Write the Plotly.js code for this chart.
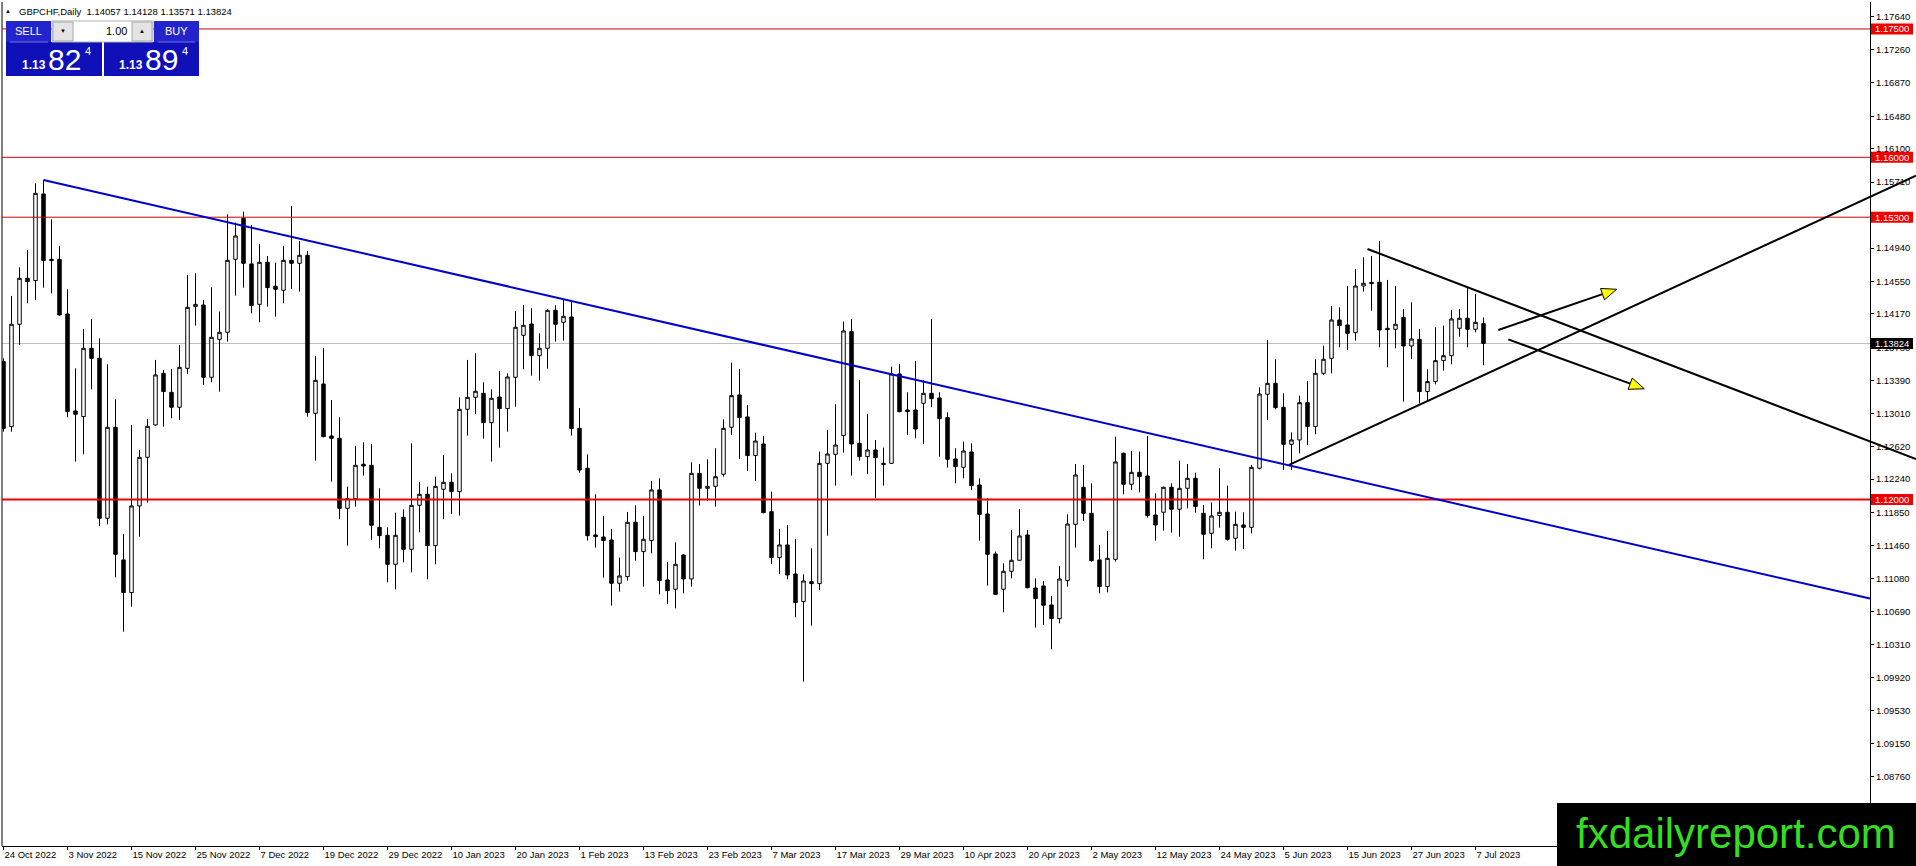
<!DOCTYPE html>
<html><head><meta charset="utf-8">
<script src="https://cdn.plot.ly/plotly-3.0.1.min.js"></script>
<style>html,body{margin:0;padding:0;background:#fff;overflow:hidden}#chart{width:1916px;height:866px}</style>
</head><body><div id="chart"></div>
<script>
// ---------------- DATA ----------------
const symbolTitle = 'GBPCHF,Daily';
const firstDate = '2022-10-24';
const opens = [
1.13612,1.12853,1.14049,1.14586,1.14559,1.15572,1.14808,1.14808,1.14169,1.13036,
1.12970,1.13768,1.13651,1.11782,1.12845,1.11295,1.10913,1.11926,1.12494,1.12872,
1.13476,1.13254,1.13079,1.13534,1.14255,1.14274,1.13429,1.13873,1.13955,1.14808,
1.15287,1.14754,1.14282,1.14773,1.14493,1.14446,1.14796,1.14761,1.14855,1.13008,
1.13351,1.12744,1.12716,1.11898,1.12011,1.12413,1.12401,1.11676,1.11583,1.11244,
1.11793,1.11419,1.11933,1.12062,1.11462,1.12120,1.12202,1.12093,1.13055,1.13195,
1.13242,1.12899,1.13199,1.13063,1.13429,1.13920,1.14052,1.13682,1.13768,1.14212,
1.14072,1.14134,1.12833,1.12366,1.11587,1.11563,1.11528,1.11022,1.11100,1.11735,
1.11392,1.11521,1.12113,1.11061,1.10952,1.11353,1.11073,1.12307,1.12132,1.12155,
1.12296,1.12845,1.13223,1.12966,1.12514,1.12650,1.11859,1.11322,1.11470,1.11131,
1.10808,1.11041,1.11018,1.12424,1.12529,1.12748,1.13963,1.12658,1.12502,1.12580,
1.12424,1.12424,1.13468,1.13047,1.13047,1.13125,1.13242,1.13188,1.12958,1.12475,
1.12377,1.12557,1.12171,1.11832,1.11365,1.10952,1.11162,1.11291,1.11587,1.10967,
1.10991,1.10769,1.10609,1.11053,1.11711,1.12144,1.11840,1.11295,1.10983,1.11302,
1.12541,1.12179,1.12319,1.12276,1.11820,1.11852,1.12144,1.11887,1.12132,1.12249,
1.11840,1.11606,1.11813,1.11852,1.11548,1.11704,1.11676,1.12366,1.13231,1.13359,
1.13079,1.12646,1.12697,1.13133,1.12853,1.13476,1.13651,1.14099,1.14041,1.13951,
1.14496,1.14539,1.14539,1.14002,1.13990,1.14130,1.13795,1.13873,1.13262,1.13379,
1.13624,1.13682,1.14002,1.14119,1.13990,1.14057];
const highs = [
1.13651,1.14380,1.14715,1.14917,1.15696,1.15735,1.15276,1.14964,1.14458,1.13534,
1.13994,1.14111,1.13885,1.13581,1.13172,1.11598,1.12872,1.12580,1.12942,1.13632,
1.13515,1.13527,1.13807,1.14625,1.14645,1.14333,1.14481,1.14197,1.15334,1.15237,
1.15365,1.15209,1.14987,1.14847,1.14769,1.14964,1.15431,1.15022,1.14906,1.13678,
1.13772,1.13164,1.12962,1.12152,1.12627,1.12670,1.12650,1.12132,1.11676,1.11848,
1.11887,1.12658,1.12206,1.12152,1.12268,1.12522,1.12307,1.13195,1.13632,1.13710,
1.13371,1.13289,1.13503,1.13476,1.14204,1.14274,1.14236,1.13943,1.14224,1.14271,
1.14333,1.14313,1.13071,1.12529,1.12062,1.11809,1.11657,1.11322,1.11856,1.11933,
1.11809,1.12218,1.12249,1.11271,1.11501,1.11361,1.12436,1.12416,1.12471,1.12600,
1.12938,1.13601,1.13527,1.13106,1.12783,1.12744,1.12093,1.11657,1.11704,1.11540,
1.11127,1.11431,1.12561,1.12814,1.13114,1.14080,1.14111,1.13398,1.13001,1.12697,
1.12607,1.13554,1.13585,1.13254,1.13620,1.13398,1.14111,1.13254,1.13020,1.12600,
1.12677,1.12658,1.12249,1.12015,1.11392,1.11256,1.11645,1.11890,1.11645,1.11080,
1.11049,1.10874,1.11224,1.11828,1.12416,1.12405,1.12190,1.11470,1.11633,1.12736,
1.12549,1.12568,1.12561,1.12744,1.12074,1.12152,1.12190,1.12455,1.12416,1.12315,
1.11937,1.11968,1.12366,1.12163,1.11859,1.11852,1.12405,1.13312,1.13865,1.13640,
1.13242,1.12786,1.13215,1.13386,1.13640,1.13799,1.14263,1.14247,1.14496,1.14695,
1.14831,1.14847,1.15022,1.14567,1.14496,1.14228,1.14306,1.13994,1.13523,1.14014,
1.14033,1.14216,1.14228,1.14481,1.14403,1.14128];
const lows = [
1.12794,1.12794,1.13807,1.14294,1.14333,1.14477,1.14411,1.14150,1.12962,1.12444,
1.12529,1.13289,1.11692,1.11711,1.11092,1.10457,1.10749,1.11567,1.11965,1.12861,
1.12853,1.12950,1.12931,1.13468,1.14033,1.13340,1.13371,1.13262,1.13846,1.14384,
1.14477,1.14177,1.14072,1.14255,1.14138,1.14294,1.14461,1.14430,1.12970,1.12455,
1.12728,1.12210,1.11770,1.11462,1.11918,1.12280,1.11528,1.11431,1.11034,1.10952,
1.11267,1.11150,1.11618,1.11069,1.11244,1.11770,1.11832,1.11813,1.12748,1.13001,
1.12713,1.12444,1.12607,1.12794,1.13086,1.13523,1.13449,1.13390,1.13531,1.13846,
1.13858,1.12748,1.12315,1.11521,1.11439,1.11088,1.10761,1.10925,1.11053,1.11287,
1.10983,1.11372,1.10893,1.10780,1.10730,1.10905,1.10983,1.11930,1.11988,1.11918,
1.12268,1.12755,1.12475,1.12335,1.12218,1.11840,1.11248,1.11131,1.11069,1.10625,
1.09873,1.10527,1.10944,1.11579,1.12163,1.12549,1.12280,1.12455,1.12300,1.12015,
1.12163,1.12416,1.13020,1.12755,1.12716,1.12650,1.13079,1.12502,1.12374,1.12191,
1.12249,1.12113,1.11520,1.10995,1.10886,1.10683,1.11080,1.11287,1.10963,1.10504,
1.10535,1.10251,1.10554,1.10983,1.11439,1.11750,1.11275,1.10905,1.10917,1.11275,
1.12062,1.12113,1.12085,1.11789,1.11520,1.11637,1.11614,1.11567,1.11898,1.11848,
1.11302,1.11431,1.11672,1.11521,1.11404,1.11423,1.11606,1.12354,1.12931,1.13055,
1.12346,1.12346,1.12541,1.12638,1.12763,1.13456,1.13476,1.13780,1.13749,1.13858,
1.14430,1.14208,1.13780,1.13546,1.13768,1.13145,1.13643,1.13125,1.13145,1.13347,
1.13507,1.13581,1.13904,1.13780,1.13955,1.13571];
const closes = [
1.12833,1.14049,1.14586,1.14547,1.15579,1.14793,1.14793,1.14158,1.13028,1.12997,
1.13768,1.13651,1.11782,1.12845,1.11361,1.10913,1.11926,1.12494,1.12857,1.13457,
1.13262,1.13079,1.13546,1.14247,1.14282,1.13429,1.13897,1.13955,1.14796,1.15081,
1.14761,1.14267,1.14773,1.14477,1.14458,1.14796,1.14761,1.14855,1.13016,1.13394,
1.12736,1.12716,1.11898,1.12011,1.12401,1.12393,1.11700,1.11579,1.11244,1.11583,
1.11419,1.11933,1.12062,1.11462,1.12155,1.12202,1.12093,1.13055,1.13195,1.13266,
1.12899,1.13184,1.13063,1.13433,1.14014,1.14037,1.13682,1.13768,1.14212,1.14049,
1.14142,1.12829,1.12346,1.11579,1.11567,1.11521,1.11022,1.11108,1.11735,1.11392,
1.11536,1.12113,1.11053,1.10936,1.11244,1.11073,1.12307,1.12132,1.12155,1.12268,
1.12833,1.13215,1.12958,1.12514,1.12685,1.11848,1.11322,1.11470,1.11119,1.10796,
1.11049,1.11018,1.12424,1.12533,1.12638,1.13971,1.12650,1.12502,1.12580,1.12490,
1.12409,1.13468,1.13028,1.13028,1.12825,1.13242,1.13180,1.12946,1.12471,1.12385,
1.12568,1.12163,1.11828,1.11361,1.10893,1.11162,1.11291,1.11575,1.10971,1.10843,
1.10765,1.10609,1.11072,1.11715,1.12288,1.11840,1.11287,1.10983,1.11314,1.12440,
1.12179,1.12319,1.12268,1.11813,1.11704,1.12144,1.11887,1.12132,1.12249,1.11918,
1.11595,1.11809,1.11852,1.11536,1.11711,1.11676,1.12377,1.13234,1.13359,1.13075,
1.12646,1.12697,1.13133,1.12853,1.13476,1.13640,1.14099,1.14033,1.13943,1.14496,
1.14528,1.14524,1.13982,1.13986,1.14049,1.13795,1.13877,1.13262,1.13379,1.13624,
1.13682,1.14111,1.14119,1.13990,1.14072,1.13824];
const priceTicks = [1.17640,1.17260,1.16870,1.16480,1.16100,1.15710,1.15320,1.14940,1.14550,1.14170,1.13780,1.13390,
  1.13010,1.12620,1.12240,1.11850,1.11460,1.11080,1.10690,1.10310,1.09920,1.09530,1.09150,1.08760];
const dateTicks = ['2022-10-24','2022-11-03','2022-11-15','2022-11-25','2022-12-07','2022-12-19','2022-12-29',
  '2023-01-10','2023-01-20','2023-02-01','2023-02-13','2023-02-23','2023-03-07','2023-03-17','2023-03-29',
  '2023-04-10','2023-04-20','2023-05-02','2023-05-12','2023-05-24','2023-06-05','2023-06-15','2023-06-27','2023-07-07'];
const monthNames = ['Jan','Feb','Mar','Apr','May','Jun','Jul','Aug','Sep','Oct','Nov','Dec'];
const thinLevels = [1.17500, 1.16000, 1.15300];
const supportLevel = 1.12000;
const bidPrice = 1.13824;
const sellQuote = ['1.13', '82', '4'];
const buyQuote = ['1.13', '89', '4'];
const lotSize = '1.00';
// analyst drawings: [bar index, price]
const blueTrend = [[5, 1.15735], [149.56, 1.12638]];
const upperBlack = [[170.5, 1.14929], [239.06, 1.12475]];
const lowerBlack = [[160.7, 1.12405], [239.06, 1.15786]];
const arrowUp = [[186.85, 1.13982], [201.65, 1.14458]];
const arrowDown = [[188.1, 1.13872], [205.1, 1.13295]];

// ---------------- BUILD ----------------
const dates = [];
{
  const d = new Date(firstDate + 'T00:00:00Z');
  while (dates.length < opens.length) {
    const wd = d.getUTCDay();
    if (wd !== 0 && wd !== 6) dates.push(d.toISOString().slice(0, 10));
    d.setUTCDate(d.getUTCDate() + 1);
  }
}
const tickText = dateTicks.map(s => {
  const [y, m, dd] = s.split('-');
  return (+dd) + ' ' + monthNames[+m - 1] + ' ' + y;
});

const W = 1916, H = 866, M = {l: 2, r: 46, t: 2, b: 20};
const plotW = W - M.l - M.r, plotH = H - M.t - M.b;
const xr = [-0.1875, 233.3125];
const yr = [1.07952, 1.17815];
const FONT = 'Liberation Sans, Arial, DejaVu Sans, sans-serif';

function dataPx(pt) {
  return [M.l + (pt[0] - xr[0]) / (xr[1] - xr[0]) * plotW,
          M.t + (yr[1] - pt[1]) / (yr[1] - yr[0]) * plotH];
}
function pxPaper(p) { return [(p[0] - M.l) / plotW, 1 - (p[1] - M.t) / plotH]; }
function pricePx(p) { return M.t + (yr[1] - p) / (yr[1] - yr[0]) * plotH; }

const shapes = [];
const annotations = [];

function segPx(a, b, color, width) {
  const A = pxPaper(a), B = pxPaper(b);
  shapes.push({type: 'line', xref: 'paper', yref: 'paper', x0: A[0], y0: A[1], x1: B[0], y1: B[1],
    line: {color: color, width: width}, layer: 'above'});
}
function rectPx(x0, y0, x1, y1, fill, stroke, lw) {
  const A = pxPaper([x0, y0]), B = pxPaper([x1, y1]);
  shapes.push({type: 'rect', xref: 'paper', yref: 'paper', x0: A[0], y0: B[1], x1: B[0], y1: A[1],
    fillcolor: fill, line: {color: stroke || fill, width: lw === undefined ? 0 : lw}, layer: 'above'});
}
function textPx(x, y, text, size, color, xanchor, opts) {
  const P = pxPaper([x, y]);
  annotations.push(Object.assign({xref: 'paper', yref: 'paper', x: P[0], y: P[1], text: text, showarrow: false,
    xanchor: xanchor || 'center', yanchor: 'middle', font: {family: FONT, size: size, color: color}, borderpad: 0}, opts || {}));
}

// bid line (below candles)
shapes.push({type: 'line', xref: 'paper', yref: 'y', x0: 0, x1: 1, y0: bidPrice, y1: bidPrice,
  line: {color: '#c0c0c0', width: 1}, layer: 'below'});
// left frame
shapes.push({type: 'line', xref: 'paper', yref: 'paper', x0: 0, x1: 0, y0: 0, y1: 1,
  line: {color: '#000', width: 1}, layer: 'above'});
// horizontal levels
thinLevels.forEach(v => shapes.push({type: 'line', xref: 'paper', yref: 'y', x0: 0, x1: 1, y0: v, y1: v,
  line: {color: '#cc0000', width: 1}, layer: 'above'}));
shapes.push({type: 'line', xref: 'paper', yref: 'y', x0: 0, x1: 1, y0: supportLevel, y1: supportLevel,
  line: {color: '#ee0000', width: 2}, layer: 'above'});

// blue trend line, ending at the price axis
{
  const s = (blueTrend[1][1] - blueTrend[0][1]) / (blueTrend[1][0] - blueTrend[0][0]);
  const end = [xr[1], blueTrend[0][1] + s * (xr[1] - blueTrend[0][0])];
  segPx(dataPx(blueTrend[0]), dataPx(end), '#0000cc', 2);
}
// black channel lines
segPx(dataPx(upperBlack[0]), dataPx(upperBlack[1]), '#000', 2);
segPx(dataPx(lowerBlack[0]), dataPx(lowerBlack[1]), '#000', 2);

// arrows
function arrow(seg) {
  const a = dataPx(seg[0]), b = dataPx(seg[1]);
  const dx = b[0] - a[0], dy = b[1] - a[1], len = Math.hypot(dx, dy);
  const ux = dx / len, uy = dy / len, L = 15, hw = 6;
  const base = [b[0] - ux * L, b[1] - uy * L];
  const c1 = [base[0] - uy * hw, base[1] + ux * hw], c2 = [base[0] + uy * hw, base[1] - ux * hw];
  segPx(a, base, '#000', 2);
  const P = [b, c1, c2].map(pxPaper);
  shapes.push({type: 'path', xref: 'paper', yref: 'paper',
    path: 'M' + P[0][0] + ',' + P[0][1] + ' L' + P[1][0] + ',' + P[1][1] + ' L' + P[2][0] + ',' + P[2][1] + ' Z',
    fillcolor: '#ffff00', line: {color: '#000', width: 1}, layer: 'above'});
}
arrow(arrowUp);
arrow(arrowDown);

// price tags on the right axis
function tag(v, bg) {
  const yc = pricePx(v);
  rectPx(1871, yc - 5.5, 1913, yc + 5.5, bg);
  annotations.push({xref: 'paper', yref: 'y', x: pxPaper([1892, 0])[0], y: v, text: v.toFixed(5), showarrow: false,
    xanchor: 'center', yanchor: 'middle', font: {family: FONT, size: 9.5, color: '#fff'}, borderpad: 0});
}
thinLevels.forEach(v => tag(v, '#ee0000'));
tag(supportLevel, '#ee0000');
tag(bidPrice, '#000000');

// one-click trading panel
rectPx(6, 21, 51, 42, '#2424cc');
rectPx(154, 21, 199, 42, '#2424cc');
rectPx(6, 42, 102, 76, '#1010b8');
rectPx(104, 42, 199, 76, '#1010b8');
segPx([10, 42], [48, 42], '#7070e0', 1);
segPx([158, 42], [195, 42], '#7070e0', 1);
rectPx(52, 21, 153, 42, '#ffffff', '#b0b0b0', 1);
rectPx(53, 22, 73, 41, '#e4e4e4', '#a8a8a8', 1);
rectPx(132, 22, 152, 41, '#e4e4e4', '#a8a8a8', 1);
textPx(28.5, 31, 'SELL', 11, '#fff');
textPx(176.5, 31, 'BUY', 11, '#fff');
textPx(128, 30.5, lotSize, 11, '#000', 'right');
textPx(63, 31, '▼', 6, '#000');
textPx(142, 31, '▲', 6, '#000');
function quote(x0, q) {
  textPx(x0, 65, q[0], 12, '#fff', 'left', {font: {family: FONT, size: 12, color: '#fff', weight: 'bold'}});
  textPx(x0 + 26, 60, q[1], 30, '#fff', 'left');
  textPx(x0 + 63, 51, q[2], 11, '#fff', 'left');
}
quote(21, sellQuote);
quote(118, buyQuote);

// header
textPx(8, 11, '▲', 6, '#000');
textPx(18, 11, symbolTitle + '\u00a0\u00a0' + [opens, highs, lows, closes].map(a => a[a.length - 1].toFixed(5)).join(' '),
  9.5, '#000', 'left');

// watermark
rectPx(1557, 803, 1916, 866, '#000000');
textPx(1736, 833, 'fxdailyreport.com', 42, '#33dd22');

const trace = {
  type: 'candlestick', x: dates, open: opens, high: highs, low: lows, close: closes,
  increasing: {line: {color: '#000', width: 1}, fillcolor: '#ffffff'},
  decreasing: {line: {color: '#000', width: 1}, fillcolor: '#000000'},
  whiskerwidth: 0, hoverinfo: 'skip', showlegend: false
};

const layout = {
  width: W, height: H, margin: M, paper_bgcolor: '#fff', plot_bgcolor: '#fff',
  showlegend: false, boxgap: 0.38, dragmode: false,
  font: {family: FONT, size: 9.5, color: '#000'},
  xaxis: {type: 'category', range: xr, autorange: false, fixedrange: true,
    rangeslider: {visible: false}, showgrid: false, zeroline: false,
    showline: true, linecolor: '#000', linewidth: 1,
    ticks: 'outside', ticklen: 3, tickcolor: '#000', tickwidth: 1,
    tickvals: dateTicks, ticktext: tickText, ticklabelposition: 'outside right',
    tickfont: {family: FONT, size: 9.5, color: '#000'}},
  yaxis: {side: 'right', range: yr, autorange: false, fixedrange: true,
    showgrid: false, zeroline: false, showline: true, linecolor: '#000', linewidth: 1,
    ticks: 'outside', ticklen: 3, tickcolor: '#000', tickwidth: 1,
    tickvals: priceTicks, tickformat: '.5f',
    tickfont: {family: FONT, size: 9.5, color: '#000'}},
  shapes: shapes, annotations: annotations
};
Plotly.newPlot('chart', [trace], layout, {displayModeBar: false, staticPlot: true});
</script></body></html>
